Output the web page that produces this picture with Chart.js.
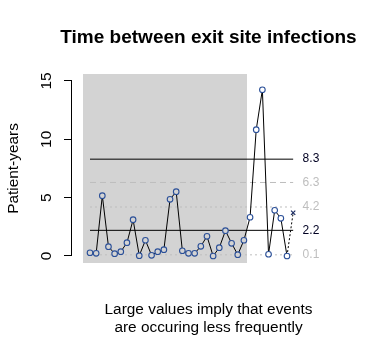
<!DOCTYPE html>
<html>
<head>
<meta charset="utf-8">
<script src="https://cdn.jsdelivr.net/npm/chart.js@4"></script>
<style>
  html, body { margin: 0; padding: 0; background: #ffffff; }
  #wrap { width: 383px; height: 355px; position: relative; }
</style>
</head>
<body>
<div id="wrap"><canvas id="c"></canvas></div>
<script>
// ---- data ----
const episodes = [1,2,3,4,5,6,7,8,9,10,11,12,13,14,15,16,17,18,19,20,21,22,23,24,25,26,27,28,29,30,31,32,33];
const patientYears = [0.28,0.23,5.17,0.80,0.20,0.37,1.14,3.11,0.03,1.35,0.06,0.37,0.54,4.86,5.51,0.45,0.23,0.23,0.83,1.69,0.00,0.71,2.17,1.09,0.11,1.35,3.32,10.83,14.25,0.15,3.92,3.23,0.00];
const pendingEpisode = 34;
const pendingValue = 3.71;
const refValues = [8.3, 6.3, 4.2, 2.2, 0.1];
const refLabels = ['8.3', '6.3', '4.2', '2.2', '0.1'];
const yTicks = [0, 5, 10, 15];
const shadeFrom = -0.14;
const shadeTo = 26.5;

// ---- styles ----
const refStyles = [
  { color: '#000000', dash: [] },
  { color: '#bebebe', dash: [6, 4] },
  { color: '#bebebe', dash: [2, 3] },
  { color: '#000000', dash: [] },
  { color: '#bebebe', dash: [2, 3] }
];
const refLabelColors = ['#000022', '#bebebe', '#bebebe', '#000022', '#bebebe'];
const FONT = "'Liberation Sans', Arial, sans-serif";

const X_MIN = -1.924, X_MAX = 42.42, Y_MIN = -0.6, Y_MAX = 15.6;
const lineStart = episodes[0], lineEnd = pendingEpisode;

const datasets = [];
// shaded region
datasets.push({
  data: [{x: shadeFrom, y: Y_MAX}, {x: shadeTo, y: Y_MAX}],
  borderWidth: 0, pointRadius: 0, backgroundColor: '#d3d3d3',
  fill: {value: Y_MIN}, order: 10
});
// reference lines
refValues.forEach((v, i) => {
  datasets.push({
    data: [{x: lineStart, y: v}, {x: lineEnd, y: v}],
    borderColor: refStyles[i].color, borderDash: refStyles[i].dash,
    borderWidth: 1, pointRadius: 0, fill: false, order: 5
  });
});
// pending (dotted) segment to x-marker
datasets.push({
  data: [{x: episodes[episodes.length-1], y: patientYears[patientYears.length-1]}, {x: pendingEpisode, y: pendingValue}],
  borderColor: '#000000', borderDash: [2, 2], borderWidth: 1, fill: false,
  pointRadius: [0, 3], pointStyle: 'crossRot', pointBorderColor: '#1a2a60',
  pointBorderWidth: 1.2, order: 2
});
// main series
datasets.push({
  data: episodes.map((e, i) => ({x: e, y: patientYears[i]})),
  borderColor: '#000000', borderWidth: 1, fill: false, tension: 0,
  pointRadius: 2.8, pointBorderWidth: 1.1,
  pointBorderColor: '#2a4f98',
  pointBackgroundColor: (ctx) => {
    const r = ctx.raw;
    return (r && r.x <= shadeTo) ? '#d3d3d3' : '#ffffff';
  },
  order: 1
});

const axisLinePlugin = {
  id: 'axisLine',
  afterDraw(chart) {
    const y = chart.scales.y;
    const ctx = chart.ctx;
    const x0 = Math.round(y.right) - 0.5;
    ctx.save();
    ctx.strokeStyle = '#000000';
    ctx.lineWidth = 1;
    ctx.beginPath();
    ctx.moveTo(x0, y.getPixelForValue(yTicks[0]));
    ctx.lineTo(x0, y.getPixelForValue(yTicks[yTicks.length-1]));
    ctx.stroke();
    ctx.restore();
  }
};

new Chart(document.getElementById('c'), {
  type: 'line',
  data: { datasets },
  plugins: [axisLinePlugin],
  options: {
    responsive: true,
    maintainAspectRatio: false,
    animation: false,
    layout: { padding: { left: 34, right: 0, top: 0, bottom: 0 } },
    plugins: {
      legend: { display: false },
      tooltip: { enabled: false },
      title: {
        display: true,
        text: 'Time between exit site infections',
        color: '#000000',
        font: { family: FONT, size: 19, weight: 'bold', lineHeight: 1.2 },
        padding: { top: 26.3, bottom: 24.9 }
      },
      subtitle: {
        display: true, position: 'bottom',
        text: ['Large values imply that events', 'are occuring less frequently'],
        color: '#000000',
        font: { family: FONT, size: 15.4, lineHeight: 1.13 },
        padding: { top: 38.5, bottom: 18.7 }
      }
    },
    scales: {
      x: {
        type: 'linear', min: X_MIN, max: X_MAX, display: false
      },
      y: {
        type: 'linear', position: 'left', min: Y_MIN, max: Y_MAX,
        afterBuildTicks: (s) => { s.ticks = yTicks.map(v => ({value: v})); },
        afterFit: (s) => { s.width = 38; },
        border: { display: false },
        grid: { drawOnChartArea: false, drawTicks: true, tickLength: 8, color: '#000000', tickColor: '#000000' },
        ticks: {
          minRotation: 90, maxRotation: 90, crossAlign: 'center', padding: 8.7,
          color: '#000000', font: { family: FONT, size: 15.4 },
          callback: (v) => String(v)
        },
        title: {
          display: true, text: 'Patient-years', color: '#000000',
          font: { family: FONT, size: 15.4 }, padding: { top: -29.7, bottom: 0 }
        }
      },
      ref: {
        type: 'linear', position: 'right', min: Y_MIN, max: Y_MAX,
        afterBuildTicks: (s) => { s.ticks = refValues.map(v => ({value: v})); },
        afterFit: (s) => { s.width = 38; },
        border: { display: false },
        grid: { display: false, drawTicks: false },
        ticks: {
          mirror: true, crossAlign: 'near', padding: -25.7,
          font: { family: FONT, size: 12 },
          color: (ctx) => {
            const i = refValues.indexOf(ctx.tick.value);
            return i >= 0 ? refLabelColors[i] : '#000000';
          },
          callback: (v) => {
            const i = refValues.indexOf(v);
            return i >= 0 ? refLabels[i] : '';
          }
        }
      }
    }
  }
});
</script>
</body>
</html>
